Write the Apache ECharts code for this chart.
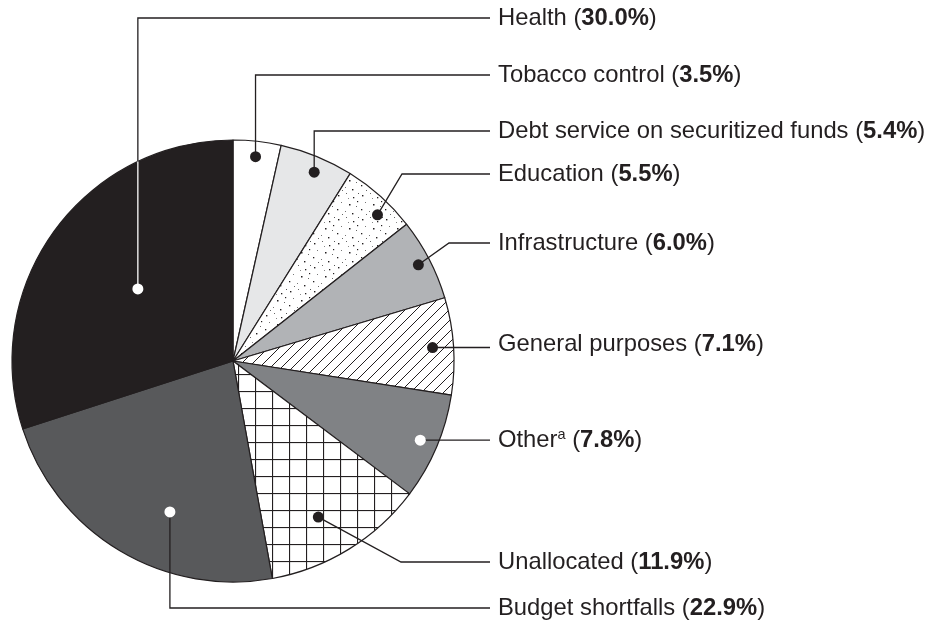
<!DOCTYPE html>
<html><head><meta charset="utf-8">
<script src="https://cdn.jsdelivr.net/npm/echarts@6/dist/echarts.min.js"></script>
<style>html,body{margin:0;padding:0;background:#fff}#c{width:943px;height:624px}</style>
</head><body><div id="c"></div>
<script>
// ---- data ----
const categories = ['Tobacco control', 'Debt service on securitized funds', 'Education', 'Infrastructure',
  'General purposes', 'Other', 'Unallocated', 'Budget shortfalls', 'Health'];
const shares = [3.5, 5.4, 5.5, 6.0, 7.1, 7.8, 11.9, 22.9, 30.0];
const superscripts = ['', '', '', '', '', 'a', '', '', ''];

// ---- layout / style config ----
const INK = '#231f20';
const FONT = '"Liberation Sans", Arial, Helvetica, sans-serif';
const labelX = 498, lineEndX = 490;
const labelY = [75, 131, 174, 243, 344, 440, 562, 608, 18];
// t: position inside slice (0..1 of its angle), rf: radius fraction, kind: leader shape, ex: elbow x for diagonals
const ann = [
  {t: 0.5, rf: 0.93, kind: 'v', dot: INK},
  {t: 0.55, rf: 0.93, kind: 'v', dot: INK},
  {t: 0.64, rf: 0.93, kind: 'd', ex: 402, dot: INK},
  {t: 0.5, rf: 0.945, kind: 'd', ex: 449, dot: INK},
  {t: 0.5, rf: 0.905, kind: 'h', dot: INK},
  {t: 0.5, rf: 0.92, kind: 'h', dot: '#fff'},
  {t: 0.57, rf: 0.805, kind: 'd', ex: 401, dot: INK},
  {t: 0.40, rf: 0.74, kind: 'v', dot: '#fff'},
  {t: 0.51, rf: 0.54, kind: 'v', dot: '#fff', innerLine: '#fff'}
];

function makeCanvas(w, h, draw) {
  const c = document.createElement('canvas'); c.width = w; c.height = h;
  const g = c.getContext('2d'); g.fillStyle = '#fff'; g.fillRect(0, 0, w, h); draw(g); return c;
}
const hatch = makeCanvas(11, 11, g => {
  g.strokeStyle = INK; g.lineWidth = 1.0; g.beginPath();
  g.moveTo(-1, 12); g.lineTo(12, -1); g.moveTo(-6.5, 6.5); g.lineTo(6.5, -6.5); g.moveTo(4.5, 17.5); g.lineTo(17.5, 4.5); g.stroke();
});
const grid = makeCanvas(17, 17, g => {
  g.fillStyle = INK; g.fillRect(0, 0, 17, 1.1); g.fillRect(0, 0, 1.1, 17);
});
const stipple = makeCanvas(24, 24, g => {
  const pts = [[2,3,1.4,INK],[10,1,1,'#666'],[17,5,1.3,INK],[5,10,1,'#777'],[13,12,1.5,INK],[20,14,1,'#666'],
    [1,17,1.3,INK],[9,19,1,'#777'],[16,21,1.4,INK],[12,6,1,'#888'],[22,1,1,'#555'],[6,22,1,'#666'],[21,9,1.2,INK]];
  pts.forEach(p => { g.fillStyle = p[3]; g.fillRect(p[0], p[1], p[2], p[2]); });
});
const fills = ['#ffffff', '#e6e7e8', {image: stipple, repeat: 'repeat'}, '#b1b3b6', {image: hatch, repeat: 'repeat'},
  '#808285', {image: grid, repeat: 'repeat'}, '#58595b', INK];

const chart = echarts.init(document.getElementById('c'), null, {renderer: 'canvas'});
const option = {
  animation: false,
  backgroundColor: '#fff',
  series: [{
    type: 'pie',
    center: [233, 361],
    radius: 221,
    startAngle: 90,
    clockwise: true,
    avoidLabelOverlap: false,
    silent: true,
    itemStyle: {borderColor: INK, borderWidth: 1.2},
    labelLine: {show: false},
    label: {
      show: true,
      formatter: p => '{n|' + p.name + '}' + (superscripts[p.dataIndex] ? '{s|' + superscripts[p.dataIndex] + '}' : '') +
        '{n| (}{b|' + shares[p.dataIndex].toFixed(1) + '%}{n|)}',
      rich: {
        n: {fontSize: 23.8, fontFamily: FONT, color: INK, lineHeight: 26},
        b: {fontSize: 23.8, fontFamily: FONT, color: INK, fontWeight: 'bold', lineHeight: 26},
        s: {fontSize: 14.5, fontFamily: FONT, color: INK, lineHeight: 14, verticalAlign: 'top'}
      }
    },
    labelLayout: p => ({x: labelX, y: labelY[p.dataIndex], align: 'left', verticalAlign: 'middle'}),
    data: categories.map((n, i) => ({name: n, value: shares[i], itemStyle: {color: fills[i]}}))
  }]
};
chart.setOption(option);

// ---- leader lines and dots from the pie's own layout ----
const sdata = chart.getModel().getSeriesByIndex(0).getData();
const els = [];
categories.forEach((n, i) => {
  const L = sdata.getItemLayout(i);
  const a = L.startAngle + (L.endAngle - L.startAngle) * ann[i].t;
  const rr = L.r * ann[i].rf;
  const px = L.cx + rr * Math.cos(a), py = L.cy + rr * Math.sin(a);
  const ly = labelY[i];
  let pts;
  if (ann[i].kind === 'v') pts = [[px, py], [px, ly], [lineEndX, ly]];
  else if (ann[i].kind === 'd') pts = [[px, py], [ann[i].ex, ly], [lineEndX, ly]];
  else pts = [[px, py], [lineEndX, py]];
  els.push({type: 'polyline', z: 100, shape: {points: pts}, style: {stroke: INK, lineWidth: 1.3, fill: null}, silent: true});
  if (ann[i].innerLine) {
    const dx = px - L.cx;
    const yEdge = (ly < py ? -1 : 1) * Math.sqrt(L.r * L.r - dx * dx) + L.cy;
    els.push({type: 'line', z: 101, shape: {x1: px, y1: py, x2: px, y2: yEdge}, style: {stroke: ann[i].innerLine, lineWidth: 1.3}, silent: true});
  }
  els.push({type: 'circle', z: 102, shape: {cx: px, cy: py, r: 5.5}, style: {fill: ann[i].dot}, silent: true});
});
chart.setOption({graphic: {elements: els}});
</script>
</body></html>
